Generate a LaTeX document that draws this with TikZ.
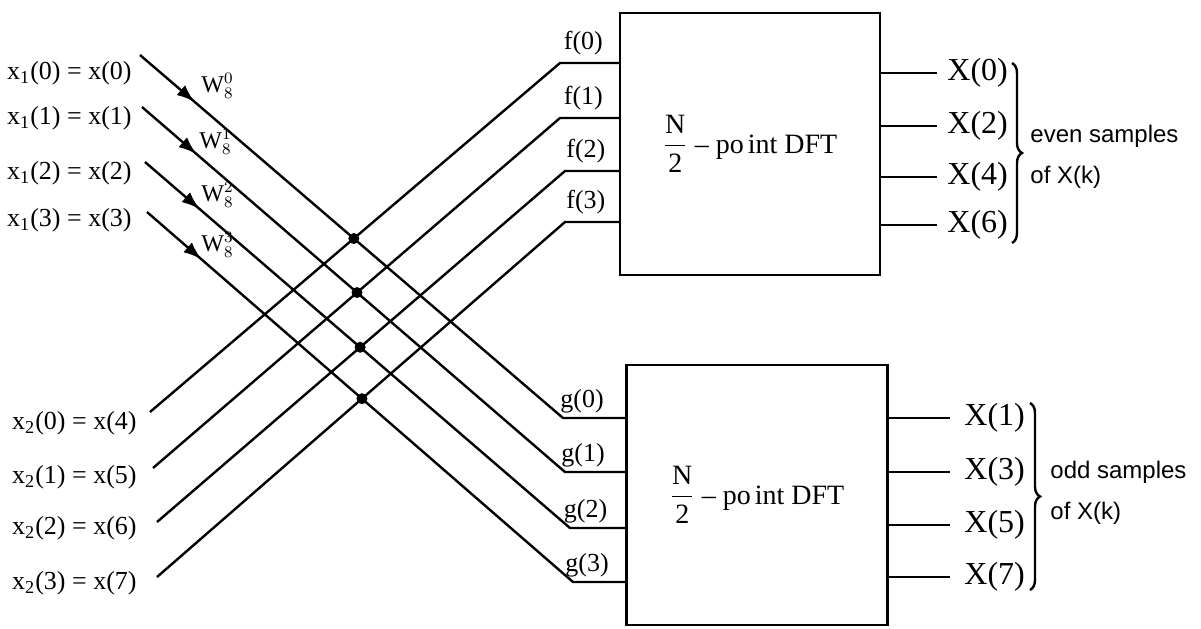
\documentclass[tikz,border=0pt]{standalone}
\usepackage{fontspec}
\setmainfont{Liberation Serif}
\setsansfont{Liberation Sans}
\usepackage{amsmath}
\usetikzlibrary{
    arrows.meta,
    positioning,
    calc,
    decorations.markings,
    decorations.pathreplacing
}

\begin{document}
\begin{tikzpicture}[
x=0.5pt, y=-0.5pt,
wire/.style={line width=1.2pt},
twiddle/.style={
wire,
postaction={decorate},
decoration={markings,
mark=at position 36pt with {\arrow{Latex[length=9pt,width=6.5pt]}}}
},
inlbl/.style={anchor=east, inner sep=0pt, font=\fontsize{13}{15}\selectfont},
pinlbl/.style={inner sep=0pt, font=\fontsize{13}{15}\selectfont},
wlbl/.style={anchor=west, inner sep=0pt, font=\fontsize{12}{14}\selectfont},
dft/.style={
draw,
line width=1.2pt,
minimum width=130pt,
minimum height=131pt,
font=\fontsize{14}{16}\selectfont
},
outlbl/.style={inner sep=0pt, font=\fontsize{16}{18}\selectfont},
note/.style={anchor=west, align=left, inner sep=0pt, font=\sffamily\fontsize{12}{20.5}\selectfont},
brc/.style={wire, decorate, decoration={brace, amplitude=5pt}},
dot/.style={circle, fill, inner sep=0pt, minimum size=5.5pt}
]

\useasboundingbox (0,0) rectangle (1201,628);

\node[dft] (fdft) at (750,144)
{$\dfrac{\text{N}}{\text{2}}$ -- po\kern2pt int DFT};

\node[dft, minimum width=130.5pt, minimum height=130pt] (gdft) at (757,495)
{$\dfrac{\text{N}}{\text{2}}$ -- po\kern2pt int DFT};

\foreach \k/\y in {0/73,1/118,2/173,3/220}
\node[inlbl] (xa\k) at (132,\y) {x\textsubscript{1}(\k) = x(\k)};

\foreach \k/\y/\n in {0/423/4,1/477/5,2/528/6,3/583/7}
\node[inlbl] (xb\k) at (137,\y) {x\textsubscript{2}(\k) = x(\n)};

\foreach \k/\sx/\sy/\cx/\cy in {0/140/55/563/418,1/142/107/565/472,2/145/162/570/528,3/147/212/573/582} {
\coordinate (sa\k) at (\sx,\sy);
\coordinate (gc\k) at (\cx,\cy);
}

\foreach \k/\sx/\sy/\cx/\cy in {0/150/412/560/63,1/153/468/560/118,2/157/522/565/171,3/157/577/565/222} {
\coordinate (sb\k) at (\sx,\sy);
\coordinate (fc\k) at (\cx,\cy);
}

\foreach \k in {0,...,3} {
\draw[twiddle] (sa\k) -- (gc\k) -- (gc\k -| gdft.west);
\draw[wire] (sb\k) -- (fc\k) -- (fc\k -| fdft.west);
\node[dot] (dt\k) at (intersection of {sa\k}--{gc\k} and {sb\k}--{fc\k}) {};
\node[pinlbl, above=4pt, xshift=-3pt] (fl\k) at ($(fc\k)!0.5!(fc\k -| fdft.west)$) {f(\k)};
\node[pinlbl, above=2pt, xshift=-6pt] (gl\k) at ($(gc\k)!0.5!(gc\k -| gdft.west)$) {g(\k)};
}

\foreach \k/\x/\y in {0/201/86,1/199/142,2/201/195,3/201/245}
\node[wlbl] (w\k) at (\x,\y) {W$^{\k}_{8}$};

\foreach \k/\y/\n in {0/73/0,1/126/2,2/177/4,3/225/6} {
\coordinate (fo\k) at (937,\y);
\draw[wire] (fdft.east |- fo\k) -- (fo\k);
\node[outlbl, right=5pt of fo\k] (ya\k) {X(\n)};
}

\foreach \k/\y/\n in {0/418/1,1/472/3,2/525/5,3/577/7} {
\coordinate (go\k) at (950,\y);
\draw[wire] (gdft.east |- go\k) -- (go\k);
\node[outlbl, right=7pt of go\k] (yb\k) {X(\n)};
}

\coordinate (ba1) at (1012,63);
\coordinate (ba2) at (1012,243);
\draw[brc] (ba1) -- (ba2);
\node[note] (evn) at (1030,157) {even samples\\of X(k)};

\coordinate (bb1) at (1030,403);
\coordinate (bb2) at (1030,590);
\draw[brc] (bb1) -- (bb2);
\node[note] (odd) at (1050,493) {odd samples\\of X(k)};

\end{tikzpicture}
\end{document}
